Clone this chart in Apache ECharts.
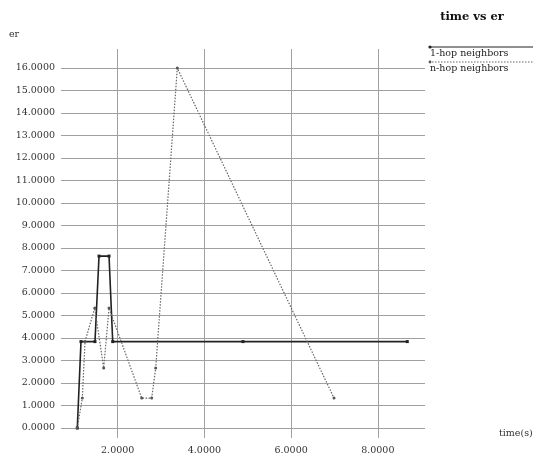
<!DOCTYPE html>
<html><head><meta charset="utf-8">
<script src="https://cdn.jsdelivr.net/npm/echarts@6/dist/echarts.min.js"></script>
<style>html,body{margin:0;padding:0;background:#fff}#c{width:533px;height:456px}</style>
</head><body><div id="c"></div>
<script>
var titleText = 'time vs er';
var yName = 'er';
var xName = 'time(s)';
var seriesNames = ['1-hop neighbors', 'n-hop neighbors'];
var hop1X = [1.068, 1.153, 1.476, 1.569, 1.80, 1.885, 4.89, 8.68];
var hop1Y = [0, 3.84, 3.84, 7.64, 7.64, 3.84, 3.84, 3.84];
var nhopX = [1.068, 1.184, 1.246, 1.47, 1.677, 1.80, 2.554, 2.784, 2.877, 3.375, 6.99];
var nhopY = [0, 1.33, 3.84, 5.33, 2.67, 5.33, 1.33, 1.33, 2.67, 16, 1.33];
var yTicks = [0,1,2,3,4,5,6,7,8,9,10,11,12,13,14,15,16];
var xTicks = [2,4,6,8];

var FONT = "'DejaVu Serif','Liberation Serif',serif";
function pairs(xs, ys){ return xs.map(function(x,i){ return [x, ys[i]]; }); }
var chart = echarts.init(document.getElementById('c'), null, {renderer:'canvas'});
chart.setOption({
  backgroundColor:'#fff',
  animation:false,
  grid:[
    {left:61, right:108, top:68, bottom:28},
    {left:117.7, right:155.2, top:49, bottom:13}
  ],
  xAxis:[
    {gridIndex:0, type:'value', min:0.692, max:9.089, show:false, splitLine:{show:false}},
    {gridIndex:1, type:'value', min:xTicks[0], max:xTicks[xTicks.length-1], interval:2,
     axisLine:{show:false}, axisTick:{show:false},
     axisLabel:{margin:8, fontFamily:FONT, fontSize:9.5, color:'#333', formatter:function(v){return v.toFixed(4);}},
     splitLine:{show:true, lineStyle:{color:'#a0a0a0', width:1}}}
  ],
  yAxis:[
    {gridIndex:0, type:'value', min:yTicks[0], max:yTicks[yTicks.length-1], interval:1,
     axisLine:{show:false}, axisTick:{show:false},
     axisLabel:{margin:6, fontFamily:FONT, fontSize:9.5, color:'#333', formatter:function(v){return v.toFixed(4);}},
     splitLine:{show:true, lineStyle:{color:'#a0a0a0', width:1}}},
    {gridIndex:1, type:'value', min:0, max:1, show:false, splitLine:{show:false}}
  ],
  graphic:[
    {type:'text', style:{text:titleText, x:472, y:17, fill:'#111', font:'bold 11.5px '+FONT, textAlign:'center', textVerticalAlign:'middle'}},
    {type:'text', style:{text:yName, x:9, y:35, fill:'#333', font:'9.5px '+FONT, textVerticalAlign:'middle'}},
    {type:'text', style:{text:xName, x:499, y:434, fill:'#333', font:'9.5px '+FONT, textVerticalAlign:'middle'}},
    {type:'line', shape:{x1:429, y1:47, x2:533, y2:47}, style:{stroke:'#222', lineWidth:1.2}},
    {type:'circle', shape:{cx:430, cy:47, r:1.6}, style:{fill:'#222'}},
    {type:'text', style:{text:seriesNames[0], x:430, y:54, fill:'#222', font:'9.5px '+FONT, textVerticalAlign:'middle'}},
    {type:'line', shape:{x1:429, y1:62, x2:533, y2:62}, style:{stroke:'#666', lineWidth:1, lineDash:[1.5,1.5]}},
    {type:'circle', shape:{cx:430, cy:62, r:1.4}, style:{fill:'#555'}},
    {type:'text', style:{text:seriesNames[1], x:430, y:69, fill:'#222', font:'9.5px '+FONT, textVerticalAlign:'middle'}}
  ],
  series:[
    {name:seriesNames[0], type:'line', xAxisIndex:0, yAxisIndex:0, data:pairs(hop1X, hop1Y),
     symbol:'rect', symbolSize:3, itemStyle:{color:'#222'}, lineStyle:{color:'#222', width:1.6}, z:3},
    {name:seriesNames[1], type:'line', xAxisIndex:0, yAxisIndex:0, data:pairs(nhopX, nhopY),
     symbol:'circle', symbolSize:3, itemStyle:{color:'#555'}, lineStyle:{color:'#666', width:1.2, type:[1.5,1.5]}, z:4}
  ]
});
</script></body></html>
